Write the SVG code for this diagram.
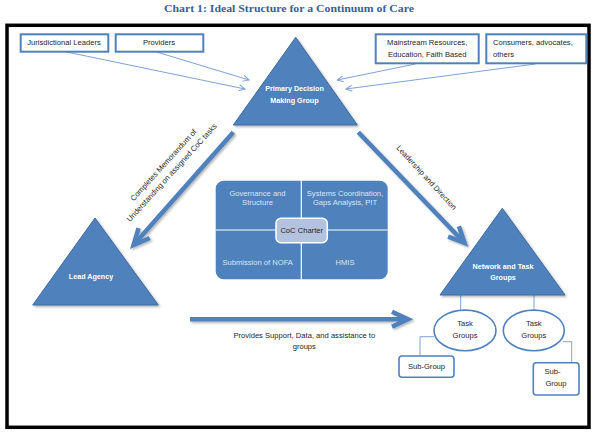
<svg xmlns="http://www.w3.org/2000/svg" width="597" height="435" viewBox="0 0 597 435">
<defs>
<style>
.t{font-family:"Liberation Sans",Arial,sans-serif;font-size:7.6px;fill:#262626}
.tc{text-anchor:middle}
.w{font-family:"Liberation Sans",Arial,sans-serif;font-size:7.2px;font-weight:bold;fill:#ffffff;text-anchor:middle}
.q{font-family:"Liberation Sans",Arial,sans-serif;font-size:7.6px;fill:#dce6f2;text-anchor:middle}
.box{fill:#ffffff;stroke:#4f81bd;stroke-width:2}
.rbox{fill:#ffffff;stroke:#4f81bd;stroke-width:1.6}
.tri{fill:#4f81bd;stroke:#3d6aa1;stroke-width:1}
.thin{fill:none;stroke:#7ea3d6;stroke-width:1}
.big{fill:none;stroke:#4f81bd;stroke-width:4.5}
.link{fill:none;stroke:#7ea3d6;stroke-width:1}
</style>
<filter id="sh" x="-20%" y="-20%" width="140%" height="140%">
<feDropShadow dx="1.5" dy="1.5" stdDeviation="1" flood-color="#000" flood-opacity="0.3"/>
</filter>
<marker id="bigHead" markerUnits="userSpaceOnUse" viewBox="-20 -12 30 24" refX="0" refY="0" markerWidth="30" markerHeight="24" orient="auto" overflow="visible">
<path d="M-15,-7.5 L1,0 L-15,7.5" fill="none" stroke="#4f81bd" stroke-width="4.5"/>
</marker>
<marker id="thinHead" markerUnits="userSpaceOnUse" viewBox="-8 -5 10 10" refX="0" refY="0" markerWidth="10" markerHeight="10" orient="auto" overflow="visible">
<path d="M-6,-3 L0,0 L-6,3" fill="none" stroke="#7ea3d6" stroke-width="1"/>
</marker>
</defs>
<rect width="597" height="435" fill="#ffffff"/>
<text x="289" y="12" text-anchor="middle" font-family="'Liberation Serif','Times New Roman',serif" font-size="10.5" font-weight="bold" fill="#3a5f96" textLength="250" lengthAdjust="spacingAndGlyphs">Chart 1: Ideal Structure for a Continuum of Care</text>
<rect x="7" y="25.3" width="582" height="402" fill="none" stroke="#000000" stroke-width="3.5"/>

<g id="connectors">
<line class="thin" x1="66.7" y1="52" x2="245" y2="89" marker-end="url(#thinHead)"/>
<line class="thin" x1="156.7" y1="52" x2="249" y2="80" marker-end="url(#thinHead)"/>
<line class="thin" x1="415.3" y1="64" x2="337.3" y2="80" marker-end="url(#thinHead)"/>
<line class="thin" x1="535.3" y1="64" x2="346" y2="89" marker-end="url(#thinHead)"/>
<g filter="url(#sh)">
<line class="big" x1="233.3" y1="132.3" x2="134.2" y2="244.3" marker-end="url(#bigHead)"/>
<line class="big" x1="358.3" y1="132.3" x2="463.9" y2="242.2" marker-end="url(#bigHead)"/>
<line class="big" x1="190" y1="319.3" x2="407" y2="319.3" marker-end="url(#bigHead)"/>
</g>
<g transform="translate(167.5,168.7) rotate(-47.7)">
<text class="t tc" x="0" y="-2.9">Completes Memorandum of</text>
<text class="t tc" x="0" y="8.4">Understanding on assigned CoC tasks</text>
</g>
<text class="t tc" transform="translate(426.7,177.5) rotate(47.3)" x="0" y="2.7">Leadership and Direction</text>
<text class="t tc" x="304.3" y="337.5">Provides Support, Data, and assistance to</text>
<text class="t tc" x="304.3" y="349.2">groups</text>
<line class="link" x1="460.7" y1="295" x2="460.7" y2="310.5"/>
<line class="link" x1="534" y1="295" x2="534" y2="310.5"/>
<polyline class="link" points="434,336.7 420,336.7 420,356"/>
<polyline class="link" points="562.7,341.7 571.7,341.7 571.7,362.7"/>
</g>

<g id="jurisdictional">
<rect class="box" x="20.7" y="34.3" width="87.6" height="17.4"/>
<text class="t tc" x="64" y="45.3">Jurisdictional Leaders</text>
</g>
<g id="providers">
<rect class="box" x="115.7" y="34.3" width="87.6" height="17.4"/>
<text class="t tc" x="159" y="45.3">Providers</text>
</g>
<g id="mainstream">
<rect class="box" x="375.7" y="34.3" width="103" height="29"/>
<text class="t tc" x="427.2" y="45.3">Mainstream Resources,</text>
<text class="t tc" x="427.2" y="56.7">Education, Faith Based</text>
</g>
<g id="consumers">
<rect class="box" x="486.3" y="34.3" width="100" height="29"/>
<text class="t" x="493" y="45.3">Consumers, advocates,</text>
<text class="t" x="493" y="56.7">others</text>
</g>

<g id="primary">
<polygon class="tri" filter="url(#sh)" points="295.7,37.3 357.3,125 233.3,125"/>
<text class="w" x="294.5" y="90.8">Primary Decision</text>
<text class="w" x="294.5" y="102.5">Making Group</text>
</g>
<g id="lead">
<polygon class="tri" filter="url(#sh)" points="95,218 158.3,305 32.7,305"/>
<text class="w" x="91" y="279.3">Lead Agency</text>
</g>
<g id="network">
<polygon class="tri" filter="url(#sh)" points="502.3,208.3 565,295 440,295"/>
<text class="w" x="503" y="268.6">Network and Task</text>
<text class="w" x="503" y="280.3">Groups</text>
</g>

<g id="charter">
<rect x="215.7" y="180.7" width="172" height="98.6" rx="8" fill="#4f81bd"/>
<line x1="301.3" y1="180.7" x2="301.3" y2="279.3" stroke="#ffffff" stroke-width="1.2"/>
<line x1="215.7" y1="230" x2="387.7" y2="230" stroke="#ffffff" stroke-width="1.2"/>
<text class="q" x="257.5" y="195.8">Governance and</text>
<text class="q" x="257.5" y="205.2">Structure</text>
<text class="q" x="345" y="195.8">Systems Coordination,</text>
<text class="q" x="345" y="205.2">Gaps Analysis, PIT</text>
<text class="q" x="257.7" y="265.2">Submission of NOFA</text>
<text class="q" x="345" y="265.2">HMIS</text>
<rect x="276" y="218.3" width="51.3" height="24.4" rx="5" fill="#b3c3df" stroke="#ffffff" stroke-width="1.5"/>
<text class="t tc" x="301.7" y="233.2">CoC Charter</text>
</g>

<g id="task1">
<ellipse class="rbox" cx="465" cy="330.4" rx="31" ry="20.3"/>
<text class="t tc" x="465" y="325.8">Task</text>
<text class="t tc" x="465" y="337.5">Groups</text>
</g>
<g id="task2">
<ellipse class="rbox" cx="533.8" cy="330.4" rx="30.5" ry="20.3"/>
<text class="t tc" x="533.8" y="325.8">Task</text>
<text class="t tc" x="533.8" y="337.5">Groups</text>
</g>
<g id="subgroup1">
<rect class="rbox" x="399" y="356" width="55" height="21.3" rx="3"/>
<text class="t tc" x="426.5" y="368.7">Sub-Group</text>
</g>
<g id="subgroup2">
<rect class="rbox" x="533.3" y="362.7" width="45.7" height="32.3" rx="3"/>
<text class="t tc" x="552.5" y="374.3">Sub-</text>
<text class="t tc" x="556" y="385.9">Group</text>
</g>
</svg>
